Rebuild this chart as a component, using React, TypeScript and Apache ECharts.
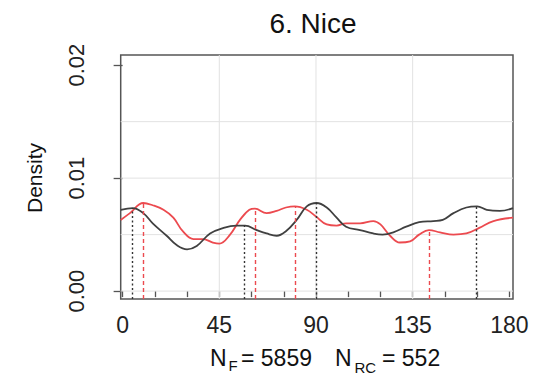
import React, { useEffect, useRef } from "react";
import * as echarts from "echarts";

// Angle (degrees) and density for the black (F) curve
const blackAngle = [-0.9, 4.7, 9.6, 14, 20.5, 25, 30, 34.5, 40.7, 47, 53, 57, 62.4, 67, 71.7, 76, 81, 85.7, 90.3, 95, 99.6, 104, 110.5, 116.7, 121, 126, 132, 138, 144.6, 149, 154, 160, 165, 169.5, 175.6, 181.7];
const blackDensity = [0.0072, 0.00735, 0.0069, 0.006, 0.0049, 0.0041, 0.0037, 0.004, 0.0051, 0.0056, 0.0058, 0.0058, 0.0054, 0.0051, 0.0049, 0.0053, 0.0063, 0.0075, 0.0078, 0.0074, 0.0065, 0.0057, 0.0054, 0.0051, 0.005, 0.0052, 0.0057, 0.0061, 0.0062, 0.0063, 0.0069, 0.0074, 0.0075, 0.0072, 0.0071, 0.00735];

// Angle and density for the red (RC) curve
const redAngle = [-0.9, 3.4, 9.6, 14, 19, 23.6, 28, 33, 37.5, 42, 45, 50, 54.6, 59, 61.6, 67, 71.7, 76, 80.2, 85.7, 90, 95, 99.6, 104, 110.5, 116.7, 120, 124.5, 129, 133.8, 138, 142.6, 147.7, 154, 160, 166, 172.6, 181.7];
const redDensity = [0.0063, 0.0069, 0.0078, 0.0076, 0.0072, 0.0065, 0.0053, 0.0046, 0.0046, 0.0043, 0.0042, 0.005, 0.0063, 0.0072, 0.0073, 0.0069, 0.0071, 0.0074, 0.0075, 0.0072, 0.0066, 0.0059, 0.0058, 0.006, 0.006, 0.0062, 0.0059, 0.0049, 0.0043, 0.0044, 0.005, 0.0054, 0.0052, 0.005, 0.0051, 0.0056, 0.0062, 0.0065];

// Peak (mode) positions
const blackPeakAngle = [4.7, 56.6, 90.3, 164.8];
const blackPeakDensity = [0.00735, 0.0058, 0.0078, 0.0075];
const redPeakAngle = [9.6, 61.6, 80.2, 142.6];
const redPeakDensity = [0.0078, 0.0073, 0.0075, 0.0054];

// Ticks and grid
const xTicks = [0, 15, 30, 45, 60, 75, 90, 105, 120, 135, 150, 165, 180];
const xLabels = [0, 45, 90, 135, 180];
const yTicks = [0, 0.01, 0.02];
const gridX = [45, 90, 135];
const gridY = [0, 0.005, 0.01, 0.015];

const X_MIN = -0.9;
const X_MAX = 181.7;
const Y_MIN = -0.0007;
const Y_MAX = 0.0209;

const FONT = "'Liberation Sans', Arial, Helvetica, sans-serif";

export default function App() {
  const ref = useRef<HTMLDivElement>(null);
  useEffect(() => {
    if (!ref.current) return;
    const chart = echarts.init(ref.current, null, { renderer: "svg" });
    const zip = (a: number[], b: number[]) => a.map((v, i) => [v, b[i]]);
    const gridSeries: any[] = [
      ...gridX.map((x) => ({
        type: "line",
        data: [[x, Y_MIN], [x, Y_MAX]],
        symbol: "none",
        silent: true,
        lineStyle: { color: "#e2e2e2", width: 1 },
        z: 1,
      })),
      ...gridY.map((y) => ({
        type: "line",
        data: [[X_MIN, y], [X_MAX, y]],
        symbol: "none",
        silent: true,
        lineStyle: { color: "#e2e2e2", width: 1 },
        z: 1,
      })),
    ];
    const peakLines = (ang: number[], dens: number[]) =>
      ang.map((a, i) => [{ coord: [a, Y_MIN] }, { coord: [a, dens[i]] }]);
    chart.setOption({
      animation: false,
      backgroundColor: "#fff",
      grid: {
        left: 120.7,
        right: 26,
        top: 55,
        bottom: 77,
        show: true,
        borderColor: "#555",
        borderWidth: 1.5,
        backgroundColor: "transparent",
      },
      xAxis: {
        type: "value",
        min: X_MIN,
        max: X_MAX,
        axisLine: { show: false },
        splitLine: { show: false },
        axisTick: { show: true, length: 6, customValues: xTicks, lineStyle: { color: "#555", width: 1.3 } },
        axisLabel: {
          customValues: xLabels,
          fontSize: 23,
          color: "#222",
          fontFamily: FONT,
          margin: 14,
        },
      },
      yAxis: {
        type: "value",
        min: Y_MIN,
        max: Y_MAX,
        axisLine: { show: false },
        splitLine: { show: false },
        axisTick: { show: true, length: 9, customValues: yTicks, lineStyle: { color: "#555", width: 1.3 } },
        axisLabel: {
          customValues: yTicks,
          rotate: 90,
          fontSize: 22,
          color: "#222",
          fontFamily: FONT,
          margin: 33,
          formatter: (v: number) => v.toFixed(2),
        },
      },
      graphic: [
        {
          type: "text",
          x: 313,
          y: 23,
          style: { text: "6. Nice", fontSize: 28, fill: "#111", fontFamily: FONT, textAlign: "center", textVerticalAlign: "middle" },
        },
        {
          type: "text",
          x: 34,
          y: 178,
          rotation: Math.PI / 2,
          style: { text: "Density", fontSize: 21, fill: "#111", fontFamily: FONT, textAlign: "center", textVerticalAlign: "middle" },
        },
        { type: "text", x: 210, y: 358, style: { text: "N", fontSize: 23, fill: "#111", fontFamily: FONT, textVerticalAlign: "middle" } },
        { type: "text", x: 228.5, y: 365.5, style: { text: "F", fontSize: 15, fill: "#111", fontFamily: FONT, textVerticalAlign: "middle" } },
        { type: "text", x: 241, y: 358, style: { text: "= 5859", fontSize: 23, fill: "#111", fontFamily: FONT, textVerticalAlign: "middle" } },
        { type: "text", x: 335, y: 358, style: { text: "N", fontSize: 23, fill: "#111", fontFamily: FONT, textVerticalAlign: "middle" } },
        { type: "text", x: 354.5, y: 367.5, style: { text: "RC", fontSize: 15, fill: "#111", fontFamily: FONT, textVerticalAlign: "middle" } },
        { type: "text", x: 382, y: 358, style: { text: "= 552", fontSize: 23, fill: "#111", fontFamily: FONT, textVerticalAlign: "middle" } },
      ],
      series: [
        ...gridSeries,
        {
          type: "line",
          name: "RC",
          data: zip(redAngle, redDensity),
          smooth: 0.4,
          symbol: "none",
          clip: true,
          lineStyle: { color: "#ec4a4f", width: 1.8 },
          z: 3,
          markLine: {
            silent: true,
            symbol: "none",
            label: { show: false },
            lineStyle: { color: "#ec4a4f", type: [4, 3], width: 1.4 },
            data: peakLines(redPeakAngle, redPeakDensity),
          },
        },
        {
          type: "line",
          name: "F",
          data: zip(blackAngle, blackDensity),
          smooth: 0.4,
          symbol: "none",
          clip: true,
          lineStyle: { color: "#404040", width: 1.8 },
          z: 4,
          markLine: {
            silent: true,
            symbol: "none",
            label: { show: false },
            lineStyle: { color: "#333", type: [2, 2.5], width: 1.4 },
            data: peakLines(blackPeakAngle, blackPeakDensity),
          },
        },
      ],
    });
    return () => chart.dispose();
  }, []);
  return <div ref={ref} style={{ width: 539, height: 376, position: "fixed", left: 0, top: 0 }} />;
}
